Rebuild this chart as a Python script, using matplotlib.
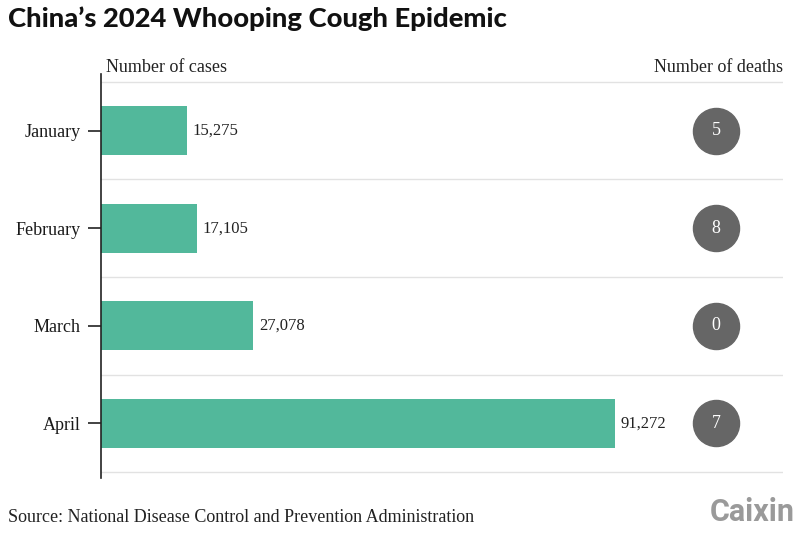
import matplotlib.pyplot as plt
from matplotlib import transforms

# Data
months = ['January', 'February', 'March', 'April']
cases = [15275, 17105, 27078, 91272]
deaths = [5, 8, 0, 7]

bar_color = '#52b89b'
serif = 'Liberation Serif'

fig = plt.figure(figsize=(8, 5.33), dpi=100)
ax = fig.add_axes([101 / 800, 1 - 478 / 533, 682 / 800, 404 / 533])

y = list(range(len(months)))
ax.barh(y, cases, height=0.5, color=bar_color, zorder=2)

# separator lines between rows
for k in range(len(months) + 1):
    ax.axhline(k - 0.5, color='#e2e2e2', lw=1, zorder=1)

ax.set_xlim(0, 121100)
ax.set_ylim(3.56, -0.58)

# value labels
for yi, v in zip(y, cases):
    ax.text(v + 1000, yi, f'{v:,}', va='center', ha='left',
            fontsize=12, family=serif, color='#222222')

# death circles
trans = transforms.blended_transform_factory(ax.transAxes, ax.transData)
ax.scatter([0.902] * len(deaths), y, s=1100, color='#666666',
           transform=trans, zorder=3, clip_on=False)
for yi, d in zip(y, deaths):
    ax.text(0.902, yi, str(d), transform=trans, ha='center', va='center',
            fontsize=13, family=serif, color='white', zorder=4)

# axes styling
for s in ['top', 'right', 'bottom']:
    ax.spines[s].set_visible(False)
ax.spines['left'].set_color('#222222')
ax.spines['left'].set_linewidth(1.2)
ax.set_xticks([])
ax.set_yticks(y)
ax.set_yticklabels(months, fontsize=13, family=serif, color='#1a1a1a')
ax.tick_params(axis='y', length=9.5, width=1.2, color='#222222', pad=5)

# headers
fig.text(106 / 800, 1 - 67 / 533, 'Number of cases', ha='left', va='center',
         fontsize=13, family=serif, color='#222222')
fig.text(783 / 800, 1 - 67 / 533, 'Number of deaths', ha='right', va='center',
         fontsize=13, family=serif, color='#222222')

# title
fig.text(8 / 800, 1 - 19 / 533, 'China\u2019s 2024 Whooping Cough Epidemic',
         ha='left', va='center', fontsize=19.7, family='Lato', weight='black',
         color='#111111')

# source and logo
fig.text(8 / 800, 1 - 518 / 533,
         'Source: National Disease Control and Prevention Administration',
         ha='left', va='center', fontsize=13, family=serif, color='#222222')
fig.text(795 / 800, 1 - 512 / 533, 'Caixin', ha='right', va='center',
         fontsize=22, family='Roboto', weight='bold', color='#9a9a9a')

fig.savefig('out.png', dpi=100)
